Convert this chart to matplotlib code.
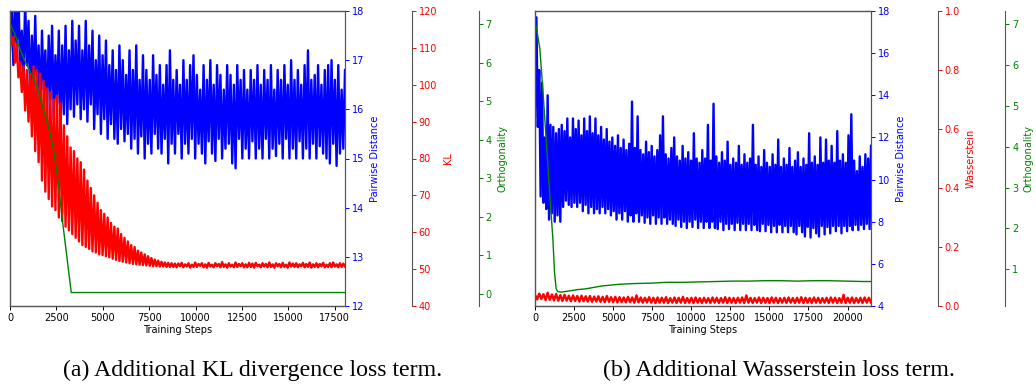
import numpy as np
import matplotlib
matplotlib.use("Agg")
import matplotlib.pyplot as plt

# ================== data (a): KL divergence run ==================
KL_LAST_STEP = 18050
kl_pairwise = [
    17.2, 18.3, 16.9, 18.1, 17.3, 18.4, 16.8, 17.6, 16.6, 18.2,
    16.9, 17.8, 16.2, 17.5, 16.5, 17.9, 16.3, 17.3, 16.0, 17.6,
    16.4, 17.2, 15.9, 17.5, 16.2, 17.7, 15.8, 17.1, 16.1, 17.6,
    15.6, 17.3, 15.9, 17.7, 15.7, 17.2, 16.0, 17.8, 15.85, 17.4,
    16.1, 17.7, 15.8, 17.2, 16.0, 17.8, 15.75, 17.3, 16.1, 17.6,
    15.6, 17.0, 15.9, 17.5, 15.5, 17.1, 15.8, 17.4, 15.4, 16.9,
    15.7, 17.2, 15.4, 16.8, 15.3, 17.3, 15.6, 17.0, 15.35, 16.7,
    15.5, 17.2, 15.2, 16.8, 15.4, 17.3, 15.1, 16.6, 15.45, 17.1,
    15.0, 16.8, 15.3, 16.6, 15.1, 17.1, 15.5, 16.7, 15.2, 16.9,
    15.1, 16.5, 15.4, 16.9, 14.9, 17.2, 15.3, 16.6, 15.1, 16.8,
    15.5, 16.5, 15.0, 17.0, 15.3, 16.6, 15.1, 16.9, 15.4, 17.1,
    15.0, 16.7, 15.3, 16.4, 15.1, 16.9, 14.9, 16.6, 15.35, 17.0,
    15.1, 16.5, 14.95, 16.9, 15.4, 16.7, 15.0, 16.4, 15.2, 16.9,
    15.3, 16.7, 14.9, 16.5, 14.8, 16.9, 15.4, 16.6, 15.0, 16.8,
    15.2, 16.4, 15.0, 16.8, 15.35, 16.6, 15.0, 16.9, 15.2, 16.5,
    15.0, 16.8, 15.4, 16.6, 15.0, 16.9, 15.2, 16.4, 15.05, 16.8,
    15.3, 16.6, 15.0, 16.9, 15.4, 16.5, 15.0, 17.0, 15.2, 16.6,
    15.0, 16.8, 15.35, 16.5, 15.0, 16.9, 15.2, 17.2, 15.0, 16.6,
    15.3, 16.7, 15.0, 16.9, 15.25, 16.5, 15.1, 16.8, 15.0, 16.9,
    14.9, 17.0, 15.3, 16.6, 14.85, 16.9, 15.1, 16.4, 15.2, 16.8,
]
kl_loss = [
    115, 111, 113, 106, 111, 102, 106, 98, 105, 93,
    104, 90, 103, 86, 105, 82, 104, 79, 103, 74,
    101, 71, 99, 69, 98, 67, 96, 66, 97, 64,
    95, 63, 89, 61.5, 86, 60.5, 83, 59.5, 82, 58.5,
    80, 57.5, 79, 56.5, 77, 56, 74, 55.5, 72, 54.8,
    70, 54.5, 68, 54, 66, 53.8, 65, 53.5, 64, 53.2,
    62.5, 52.8, 61.5, 52.5, 61, 52.2, 59.5, 52, 58.5, 51.8,
    57.5, 51.6, 56.5, 51.4, 56, 51.3, 55, 51.2, 54.5, 51.1,
    54, 51.0, 53.5, 50.9, 53, 50.8, 52.6, 50.8, 52.3, 50.7,
    52, 50.7, 51.8, 50.6, 51.7, 50.6, 51.6, 50.6, 51.5, 50.5,
    51.5, 50.8, 51.7, 50.5, 51.3, 50.7, 51.6, 50.4, 51.2, 50.6,
    51.8, 50.6, 51.4, 50.9, 51.6, 50.5, 51.3, 50.4, 51.7, 50.7,
    51.2, 50.5, 51.6, 50.8, 51.4, 50.5, 51.9, 50.6, 51.3, 50.4,
    51.6, 50.7, 51.2, 50.5, 51.8, 50.6, 51.4, 50.8, 51.6, 50.5,
    51.3, 50.5, 51.7, 50.6, 51.5, 50.4, 51.7, 50.8, 51.2, 50.5,
    51.6, 50.7, 51.4, 50.5, 51.8, 50.6, 51.3, 50.4, 51.6, 50.8,
    51.4, 50.5, 51.7, 50.6, 51.2, 50.4, 51.8, 50.7, 51.5, 50.6,
    51.6, 50.5, 51.3, 50.8, 51.7, 50.5, 51.4, 50.6, 51.8, 50.4,
    51.3, 50.6, 51.6, 50.5, 51.4, 50.8, 51.7, 50.5, 51.2, 50.6,
    51.6, 50.5, 51.8, 50.7, 51.3, 50.5, 51.6, 50.6, 51.5, 50.7,
]
kl_orth_steps = [0, 300, 556, 900, 1273, 1600, 1811, 2100, 2349, 2500,
                 2618, 2800, 3300, 5000, 7500, 10000, 12500, 15000, 18050]
kl_orth = [7.03, 6.70, 6.33, 5.95, 5.60, 5.15, 4.77, 4.30, 3.73, 3.25,
           2.80, 2.00, 0.03, 0.03, 0.03, 0.03, 0.03, 0.03, 0.03]

# ================== data (b): Wasserstein run ==================
W_LAST_STEP = 21500
w_pairwise = [
    13.0, 17.7, 12.5, 15.2, 9.2, 14.6, 8.9, 12.0, 8.6, 14.0,
    8.1, 12.6, 8.4, 12.5, 8.0, 12.2, 8.3, 12.4, 8.0, 12.6,
    8.7, 12.3, 9.0, 12.9, 8.8, 12.0, 8.7, 12.9, 8.9, 12.4,
    8.7, 12.8, 8.9, 12.1, 8.5, 12.9, 8.8, 12.3, 8.4, 13.0,
    8.7, 12.2, 8.4, 12.9, 8.6, 12.1, 8.4, 12.5, 8.7, 11.9,
    8.4, 12.4, 8.6, 11.8, 8.3, 12.0, 8.5, 11.6, 8.1, 12.1,
    8.4, 11.5, 8.1, 11.9, 8.5, 11.4, 8.0, 11.7, 8.3, 13.7,
    8.0, 11.5, 8.4, 13.0, 8.0, 11.4, 8.3, 11.2, 7.95, 11.8,
    8.2, 11.3, 7.9, 11.6, 8.3, 11.1, 7.9, 11.4, 8.2, 12.1,
    7.9, 13.0, 8.2, 11.2, 7.9, 11.0, 8.1, 11.5, 7.9, 12.0,
    7.8, 11.1, 8.1, 10.9, 7.75, 11.6, 8.0, 11.0, 7.7, 11.3,
    8.0, 10.9, 7.75, 12.2, 8.1, 11.0, 7.7, 10.8, 8.0, 11.4,
    7.7, 11.0, 8.0, 12.6, 7.7, 10.9, 8.0, 13.6, 7.7, 11.1,
    7.65, 10.8, 8.0, 11.3, 7.6, 10.9, 7.9, 11.8, 7.65, 10.7,
    7.9, 11.0, 7.6, 10.8, 7.95, 11.6, 7.6, 10.7, 7.9, 11.2,
    7.6, 10.8, 7.9, 11.0, 7.6, 12.6, 7.85, 10.7, 7.6, 11.1,
    7.55, 10.6, 7.9, 11.4, 7.55, 10.8, 7.85, 10.6, 7.5, 11.2,
    7.8, 10.7, 7.5, 11.9, 7.85, 10.6, 7.5, 11.0, 7.8, 10.7,
    7.5, 11.5, 7.8, 10.6, 7.5, 10.9, 7.4, 11.3, 7.8, 10.6,
    7.5, 11.0, 7.3, 10.7, 7.75, 12.2, 7.25, 10.8, 7.7, 11.1,
    7.45, 10.7, 7.3, 12.0, 7.8, 10.8, 7.4, 11.9, 7.75, 10.9,
    7.45, 11.6, 7.8, 10.8, 7.55, 12.3, 7.8, 10.9, 7.45, 11.2,
    7.8, 10.8, 7.55, 12.1, 7.8, 13.1, 7.6, 10.9, 7.85, 10.4,
    7.6, 11.1, 7.85, 10.6, 7.65, 11.2, 7.9, 11.0, 7.65, 11.6,
]
w_loss = [
    0.038, 0.022, 0.042, 0.024, 0.040, 0.020, 0.045, 0.021, 0.039, 0.019,
    0.041, 0.018, 0.037, 0.017, 0.038, 0.018, 0.035, 0.016, 0.036, 0.017,
    0.034, 0.015, 0.035, 0.016, 0.033, 0.015, 0.034, 0.014, 0.032, 0.015,
    0.033, 0.014, 0.031, 0.013, 0.034, 0.014, 0.030, 0.013, 0.031, 0.012,
    0.030, 0.013, 0.029, 0.012, 0.031, 0.013, 0.029, 0.011, 0.036, 0.012,
    0.029, 0.011, 0.028, 0.012, 0.030, 0.011, 0.028, 0.010, 0.029, 0.011,
    0.028, 0.011, 0.030, 0.010, 0.027, 0.011, 0.029, 0.010, 0.028, 0.011,
    0.031, 0.010, 0.027, 0.011, 0.028, 0.010, 0.029, 0.011, 0.027, 0.010,
    0.028, 0.011, 0.027, 0.010, 0.029, 0.011, 0.028, 0.010, 0.027, 0.011,
    0.030, 0.010, 0.028, 0.011, 0.027, 0.010, 0.028, 0.011, 0.029, 0.010,
    0.036, 0.011, 0.028, 0.010, 0.027, 0.011, 0.029, 0.010, 0.028, 0.011,
    0.027, 0.010, 0.029, 0.011, 0.028, 0.010, 0.027, 0.011, 0.028, 0.010,
    0.029, 0.011, 0.027, 0.010, 0.028, 0.011, 0.030, 0.010, 0.028, 0.011,
    0.027, 0.010, 0.029, 0.011, 0.028, 0.010, 0.027, 0.011, 0.028, 0.010,
    0.029, 0.011, 0.028, 0.010, 0.027, 0.011, 0.038, 0.010, 0.028, 0.011,
    0.029, 0.010, 0.027, 0.011, 0.028, 0.010, 0.029, 0.011, 0.028, 0.012,
]
w_orth_steps = [0, 100, 312, 520, 729, 937, 1146, 1250, 1354, 1458, 1700,
                2187, 2700, 3229, 4270, 5312, 6300, 7395, 8400, 9478, 10500,
                11562, 12600, 13645, 14700, 15729, 16800, 17812, 18800,
                19895, 21000, 21500]
w_orth = [7.0, 6.9, 6.4, 5.3, 4.1, 2.87, 1.73, 0.92, 0.52, 0.45, 0.44,
          0.47, 0.50, 0.52, 0.59, 0.63, 0.65, 0.66, 0.68, 0.68, 0.69,
          0.70, 0.71, 0.71, 0.72, 0.72, 0.71, 0.72, 0.72, 0.71, 0.70, 0.70]

SPINE = '#555555'


def draw_panel(rect, last_step, pairwise, loss, orth_steps, orth,
               loss_name, pair_lim, pair_ticks, loss_lim, loss_ticks,
               orth_lim, orth_ticks, xticks, caption, cap_x):
    ax = fig.add_axes(rect)
    ax.set_yticks([])
    ax.set_xlim(0, last_step)
    ax.set_xticks(xticks)
    ax.tick_params(axis='x', labelsize=7, length=2.8, width=0.7, pad=2)
    ax.set_xlabel('Training Steps', fontsize=7, labelpad=1.5)
    for s in ax.spines.values():
        s.set_color(SPINE)

    # 三条曲线各用一个 y 轴
    ax_b = ax.twinx()
    ax_r = ax.twinx()
    ax_g = ax.twinx()
    ax_r.spines['right'].set_position(('axes', 1.2))
    ax_g.spines['right'].set_position(('axes', 1.4))

    steps_p = np.linspace(0, last_step, len(pairwise))
    steps_l = np.linspace(0, last_step, len(loss))
    # 点比原始记录少，线宽加粗让噪声带连成一片
    ax_b.plot(steps_p, pairwise, color='blue', lw=1.7)
    ax_r.plot(steps_l, loss, color='red', lw=1.7)
    ax_g.plot(orth_steps, orth, color='green', lw=1.0)

    for a, col, lim, ticks, name in [
            (ax_b, 'blue', pair_lim, pair_ticks, 'Pairwise Distance'),
            (ax_r, 'red', loss_lim, loss_ticks, loss_name),
            (ax_g, 'green', orth_lim, orth_ticks, 'Orthogonality')]:
        a.set_xlim(0, last_step)
        a.set_ylim(*lim)
        a.set_yticks(ticks)
        a.tick_params(axis='y', colors=col, labelsize=7, length=2.8,
                      width=0.7, pad=2)
        a.set_ylabel(name, color=col, fontsize=7, labelpad=4)
        for s in a.spines.values():
            s.set_color(SPINE)

    fig.text(cap_x, 0.044, caption, ha='center', va='center',
             family='Liberation Serif', fontsize=17.2)


fig = plt.figure(figsize=(10.36, 3.87), dpi=100)

draw_panel([10 / 1036, 81 / 387, 335 / 1036, 295 / 387], KL_LAST_STEP,
           kl_pairwise, kl_loss, kl_orth_steps, kl_orth, 'KL',
           (12, 18), np.arange(12, 19, 1), (40, 120), np.arange(40, 121, 10),
           (-0.32, 7.35), np.arange(0, 8, 1),
           np.arange(0, 17501, 2500),
           '(a) Additional KL divergence loss term.', 253 / 1036)

draw_panel([535 / 1036, 81 / 387, 336 / 1036, 295 / 387], W_LAST_STEP,
           w_pairwise, w_loss, w_orth_steps, w_orth, 'Wasserstein',
           (4, 18), np.arange(4, 19, 2), (0, 1), np.arange(0, 1.01, 0.2),
           (0.10, 7.33), np.arange(1, 8, 1),
           np.arange(0, 20001, 2500),
           '(b) Additional Wasserstein loss term.', 779 / 1036)

plt.savefig('out.png', dpi=100)
